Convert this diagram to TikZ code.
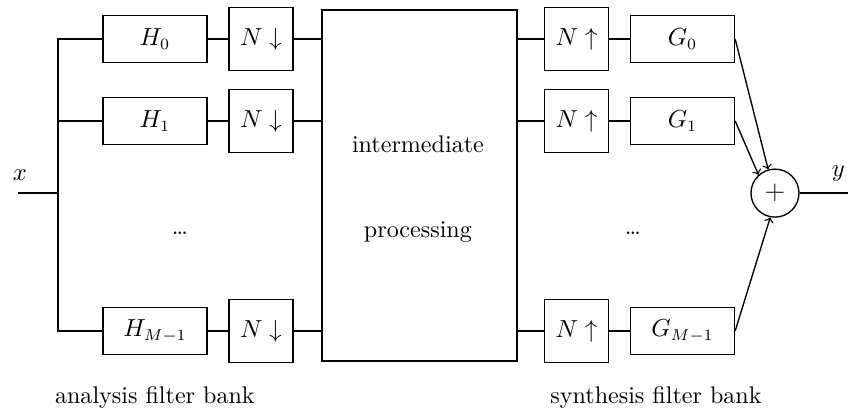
\documentclass[tikz,border=0pt]{standalone}
\usepackage{tikz}
\usetikzlibrary{calc}
\tikzset{
	filt/.style={draw, minimum width=1.625cm, minimum height=0.73cm, inner sep=0pt},
	rate/.style={draw, minimum width=1cm, minimum height=0.98cm, inner sep=0pt},
	sumnode/.style={draw, circle, minimum size=0.75cm, inner sep=0pt}
}

\begin{document}
\begin{tikzpicture}[semithick, font=\fontsize{10.7pt}{13pt}\selectfont]
			%%%%% START %%%%%
			
			\useasboundingbox (0, 0) rectangle (13.25, 6.4375);
			
			% analysis side
			\node[filt] (H0) at (2.422, 5.828) {$H_0$};
			\node[filt] (H1) at (2.422, 4.547) {$H_1$};
			\node[filt] (HM) at (2.422, 1.266) {$H_{M-1}$};
			\node (dotsA) at (2.81, 2.797) {\dots};
			
			\node[rate] (D0) at (4.078, 5.828) {$N\downarrow$};
			\node[rate] (D1) at (4.078, 4.547) {$N\downarrow$};
			\node[rate] (DM) at (4.078, 1.266) {$N\downarrow$};
			
			\node[draw, minimum width=3.047cm, minimum height=5.484cm] (mid) at (6.555, 3.539) {};
			\node (midA) at (6.53, 4.19) {intermediate};
			\node (midB) at (6.53, 2.81) {processing};
			
			% synthesis side
			\node[rate] (U0) at (9.008, 5.828) {$N\uparrow$};
			\node[rate] (U1) at (9.008, 4.547) {$N\uparrow$};
			\node[rate] (UM) at (9.008, 1.266) {$N\uparrow$};
			\node (dotsS) at (9.89, 2.797) {\dots};
			
			\node[filt] (G0) at (10.664, 5.828) {$G_0$};
			\node[filt] (G1) at (10.664, 4.547) {$G_1$};
			\node[filt] (GM) at (10.664, 1.266) {$G_{M-1}$};
			
			\node[sumnode] (sum) at (12.109, 3.42) {\large$+$};
			
			% input and output
			\coordinate (xin) at (0.281, 3.42);
			\coordinate (bus) at (0.906, 0);
			\coordinate (yout) at (13.25, 3.42);
			\node (xlab) at (0.31, 3.70) {$x$};
			\node (ylab) at (13.1, 3.73) {$y$};
			
			\draw (H0.west) -- (H0.west -| bus) -- (HM.west -| bus) -- (HM.west);
			\draw (H1.west) -- (H1.west -| bus);
			\draw (xin) -- (xin -| bus);
			
			\draw (H0.east) -- (D0.west);
			\draw (H1.east) -- (D1.west);
			\draw (HM.east) -- (DM.west);
			
			\draw (D0.east) -- (D0.east -| mid.west);
			\draw (D1.east) -- (D1.east -| mid.west);
			\draw (DM.east) -- (DM.east -| mid.west);
			
			\draw (U0.west -| mid.east) -- (U0.west);
			\draw (U1.west -| mid.east) -- (U1.west);
			\draw (UM.west -| mid.east) -- (UM.west);
			
			\draw (U0.east) -- (G0.west);
			\draw (U1.east) -- (G1.west);
			\draw (UM.east) -- (GM.west);
			
			\draw[->] (G0.east) -- (sum.106);
			\draw[->] (G1.east) -- (sum.132);
			\draw[->] (GM.east) -- (sum.-101);
			\draw (sum.east) -- (yout);
			
			\node (anaLab) at (2.42, 0.22) {analysis filter bank};
			\node (synLab) at (10.25, 0.22) {synthesis filter bank};
			
			%%%%% END %%%%%
		\end{tikzpicture}
\end{document}
